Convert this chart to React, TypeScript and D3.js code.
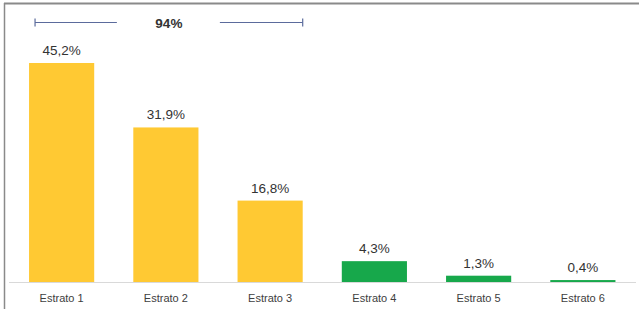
import React, { useEffect, useRef } from 'react';
import * as d3 from 'd3';

const categories = ['Estrato 1', 'Estrato 2', 'Estrato 3', 'Estrato 4', 'Estrato 5', 'Estrato 6'];
const values = [45.2, 31.9, 16.8, 4.3, 1.3, 0.4];
const groupOf = ['top', 'top', 'top', 'low', 'low', 'low'];
const bracketLabel = '94%';

export default function App() {
  const svgRef = useRef<SVGSVGElement>(null);

  useEffect(() => {
    const width = 639;
    const height = 309;
    const baseline = 282;

    d3.select(svgRef.current).selectAll('*').remove();

    const svg = d3.select(svgRef.current)
      .attr('width', width)
      .attr('height', height);

    const x = d3.scaleBand<string>()
      .domain(categories)
      .range([9.5, 635])
      .paddingInner(0.375)
      .paddingOuter(0.1875);

    const y = d3.scaleLinear()
      .domain([0, 45.2])
      .range([baseline, 63]);

    const color = (g: string) => (g === 'top' ? '#FFC933' : '#17A84B');
    const font = '"Liberation Sans", Arial, sans-serif';

    // frame (top and left only)
    svg.append('line')
      .attr('x1', 4).attr('x2', width)
      .attr('y1', 3.5).attr('y2', 3.5)
      .attr('stroke', '#8a8a8a').attr('stroke-width', 2);
    svg.append('line')
      .attr('x1', 4.5).attr('x2', 4.5)
      .attr('y1', 3).attr('y2', height)
      .attr('stroke', '#8a8a8a').attr('stroke-width', 1.5);

    // baseline
    svg.append('line')
      .attr('x1', 9).attr('x2', 636)
      .attr('y1', baseline + 0.5).attr('y2', baseline + 0.5)
      .attr('stroke', '#d9d9d9');

    svg.selectAll('rect.bar')
      .data(values)
      .enter()
      .append('rect')
      .attr('class', 'bar')
      .attr('x', (_, i) => x(categories[i])!)
      .attr('width', x.bandwidth())
      .attr('y', d => y(d))
      .attr('height', d => baseline - y(d))
      .attr('fill', (_, i) => color(groupOf[i]));

    // value labels
    svg.selectAll('text.value')
      .data(values)
      .enter()
      .append('text')
      .attr('class', 'value')
      .attr('x', (_, i) => x(categories[i])! + x.bandwidth() / 2)
      .attr('y', d => y(d) - 8)
      .attr('text-anchor', 'middle')
      .attr('font-family', font)
      .attr('font-size', 13.5)
      .attr('fill', '#333')
      .text(d => d.toFixed(1).replace('.', ',') + '%');

    // category labels
    svg.selectAll('text.cat')
      .data(categories)
      .enter()
      .append('text')
      .attr('class', 'cat')
      .attr('x', d => x(d)! + x.bandwidth() / 2)
      .attr('y', 302)
      .attr('text-anchor', 'middle')
      .attr('font-family', font)
      .attr('font-size', 11)
      .attr('fill', '#404040')
      .text(d => d);

    // bracket over the first three bars
    const topCats = categories.filter((_, i) => groupOf[i] === 'top');
    const bx1 = x(topCats[0])! + 6;
    const bx2 = x(topCats[topCats.length - 1])! + x.bandwidth();
    const bmid = (bx1 + bx2) / 2;
    const by = 22.5;
    const bracket = svg.append('g')
      .attr('stroke', '#5b6b9c')
      .attr('stroke-width', 1.2);
    bracket.append('line').attr('x1', bx1).attr('x2', bmid - 52).attr('y1', by).attr('y2', by);
    bracket.append('line').attr('x1', bmid + 51).attr('x2', bx2).attr('y1', by).attr('y2', by);
    bracket.append('line').attr('x1', bx1).attr('x2', bx1).attr('y1', by - 4).attr('y2', by + 4);
    bracket.append('line').attr('x1', bx2).attr('x2', bx2).attr('y1', by - 4).attr('y2', by + 4);

    svg.append('text')
      .attr('x', bmid)
      .attr('y', by + 5)
      .attr('text-anchor', 'middle')
      .attr('font-family', font)
      .attr('font-size', 13.5)
      .attr('font-weight', 'bold')
      .attr('fill', '#333')
      .text(bracketLabel);
  }, []);

  return <svg ref={svgRef} style={{ position: 'absolute', left: 0, top: 0 }}></svg>;
}
